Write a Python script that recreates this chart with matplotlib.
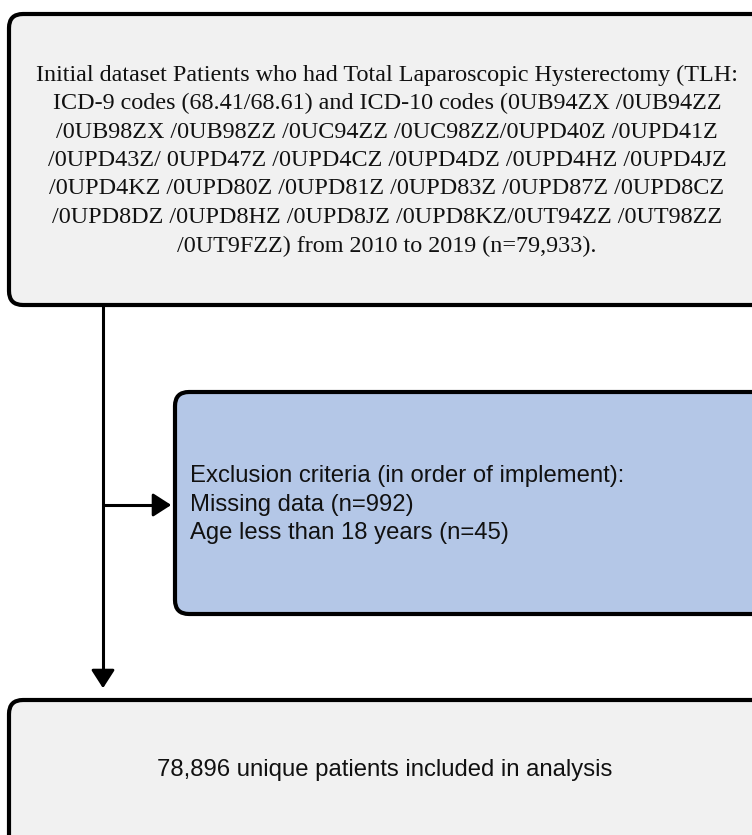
import matplotlib
matplotlib.use("Agg")
import matplotlib.pyplot as plt
from matplotlib.patches import FancyBboxPatch, FancyArrowPatch

# ---- content ----
top_lines = [
    "Initial dataset Patients who had Total Laparoscopic Hysterectomy (TLH:",
    "ICD-9 codes (68.41/68.61) and ICD-10 codes (0UB94ZX /0UB94ZZ",
    "/0UB98ZX /0UB98ZZ /0UC94ZZ /0UC98ZZ/0UPD40Z /0UPD41Z",
    "/0UPD43Z/ 0UPD47Z /0UPD4CZ /0UPD4DZ /0UPD4HZ /0UPD4JZ",
    "/0UPD4KZ /0UPD80Z /0UPD81Z /0UPD83Z /0UPD87Z /0UPD8CZ",
    "/0UPD8DZ /0UPD8HZ /0UPD8JZ /0UPD8KZ/0UT94ZZ /0UT98ZZ",
    "/0UT9FZZ) from 2010 to 2019 (n=79,933).",
]
excl_lines = [
    "Exclusion criteria (in order of implement):",
    "Missing data (n=992)",
    "Age less than 18 years (n=45)",
]
final_text = "78,896 unique patients included in analysis"

W, H = 752, 835
fig = plt.figure(figsize=(W / 100, H / 100), dpi=100)
ax = fig.add_axes([0, 0, 1, 1])
ax.set_xlim(0, W)
ax.set_ylim(H, 0)
ax.axis("off")

grey = "#f1f1f1"
blue = "#b4c7e7"
lw = 3.0

def box(x0, y0, x1, y1, fc):
    p = FancyBboxPatch((x0, y0), x1 - x0, y1 - y0,
                       boxstyle="round,pad=0,rounding_size=14",
                       fc=fc, ec="black", lw=lw, zorder=2)
    ax.add_patch(p)

box(9, 14, 790, 305, grey)
box(175, 392, 790, 614, blue)
box(9, 700, 790, 880, grey)

# connectors
ax.plot([103, 103], [305, 680], color="black", lw=2.2, zorder=1, solid_capstyle="butt")
ax.add_patch(FancyArrowPatch((103, 674), (103, 691), arrowstyle="-|>,head_length=7,head_width=4.5",
                             color="black", lw=2.0, mutation_scale=1.6, zorder=3))
ax.plot([103, 162], [505, 505], color="black", lw=2.2, zorder=1, solid_capstyle="butt")
ax.add_patch(FancyArrowPatch((158, 505), (174, 505), arrowstyle="-|>,head_length=7,head_width=4.5",
                             color="black", lw=2.0, mutation_scale=1.6, zorder=3))

# top text
y0 = 75
for i, line in enumerate(top_lines):
    ax.text(387, y0 + i * 28.5, line, ha="center", va="center",
            family="Liberation Serif", fontsize=17.4, color="#111111", zorder=4)

for i, line in enumerate(excl_lines):
    ax.text(190, 476 + i * 28.5, line, ha="left", va="center",
            family="Liberation Sans", fontsize=17.2, color="#111111", zorder=4)

ax.text(385, 770, final_text, ha="center", va="center",
        family="Liberation Sans", fontsize=17.2, color="#111111", zorder=4)

fig.savefig("out.png", dpi=100, facecolor="white")
